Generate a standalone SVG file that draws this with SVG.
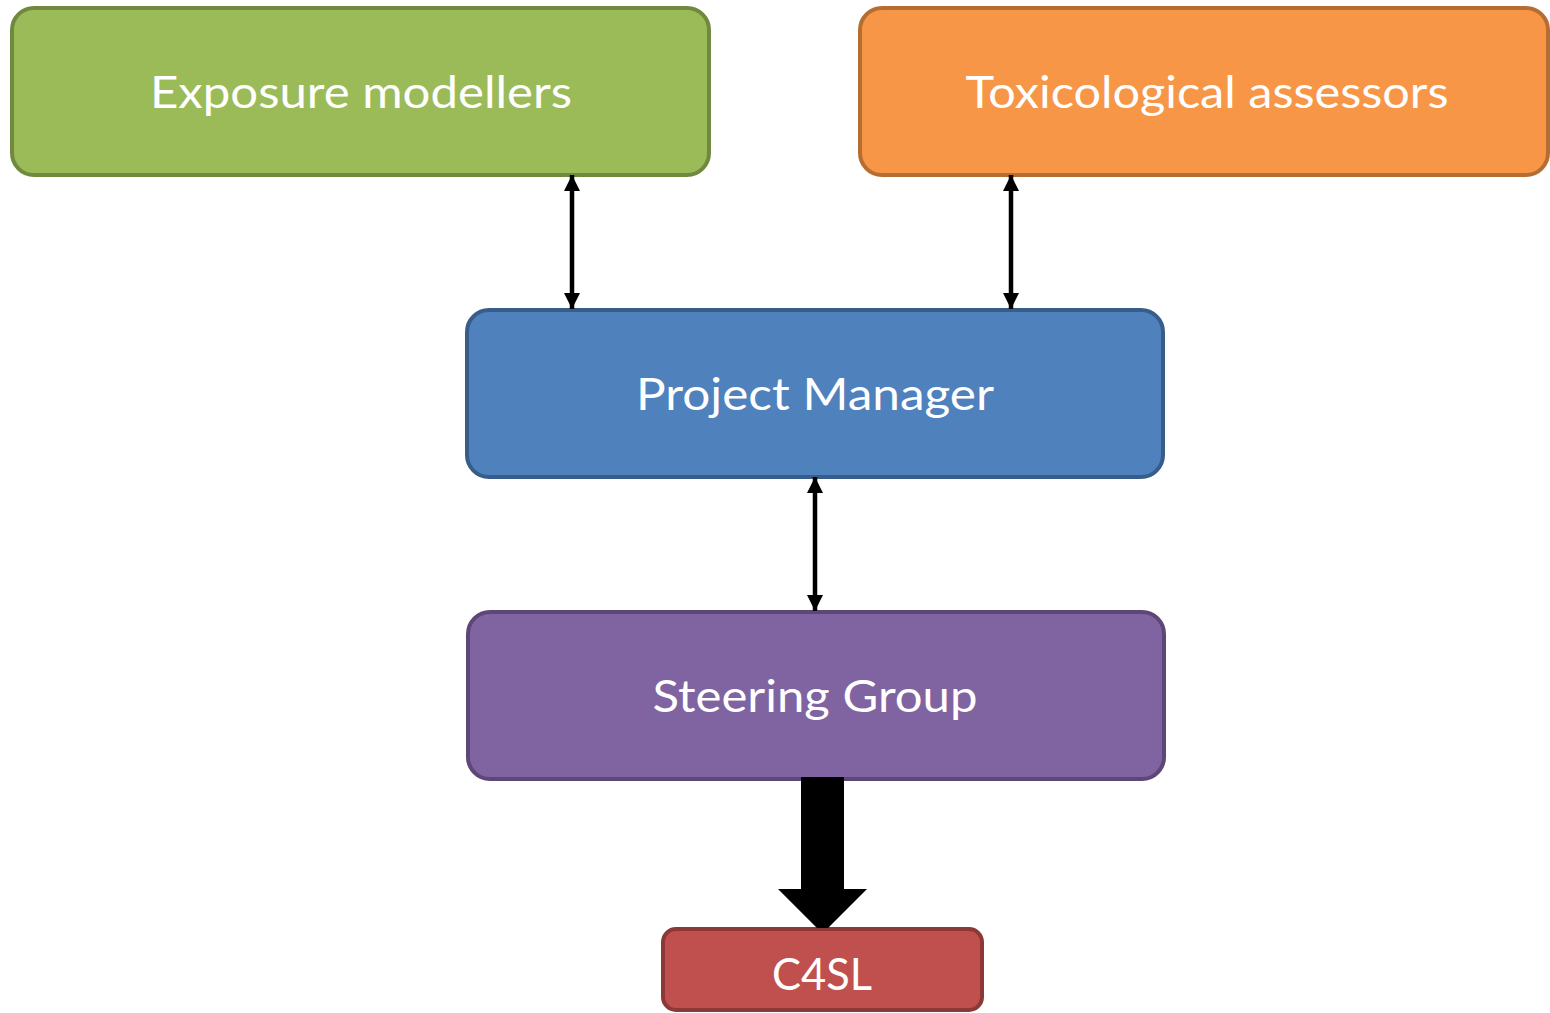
<svg xmlns="http://www.w3.org/2000/svg" width="1550" height="1013" viewBox="0 0 1550 1013">
<defs>
<style>
.lbl{font-family:Lato,"Open Sans","Liberation Sans",sans-serif;fill:#ffffff;text-anchor:middle;font-size:44px}
.box{stroke-width:4}
.conn{stroke:#000;stroke-width:4.5;fill:none}
</style>
<marker id="ah" viewBox="0 0 10 10" refX="10" refY="5" markerWidth="3.6" markerHeight="3.8" orient="auto-start-reverse" markerUnits="strokeWidth">
<path d="M0,0 L10,5 L0,10 z" fill="#000"/>
</marker>
</defs>
<rect width="1550" height="1013" fill="#fff"/>
<g id="exposure">
<rect class="box" x="12" y="8" width="697" height="167" rx="22" fill="#9BBB59" stroke="#71893F"/>
<text class="lbl" x="361" y="108" textLength="422" lengthAdjust="spacingAndGlyphs">Exposure modellers</text>
</g>
<g id="toxicological">
<rect class="box" x="860" y="8" width="688" height="167" rx="22" fill="#F79646" stroke="#B66D31"/>
<text class="lbl" x="1207" y="108" textLength="483" lengthAdjust="spacingAndGlyphs">Toxicological assessors</text>
</g>
<g id="project-manager">
<rect class="box" x="467" y="310" width="696" height="167" rx="22" fill="#4F81BD" stroke="#385D8A"/>
<text class="lbl" x="815" y="410" textLength="358" lengthAdjust="spacingAndGlyphs">Project Manager</text>
</g>
<g id="steering-group">
<rect class="box" x="468" y="612" width="696" height="167" rx="22" fill="#8064A2" stroke="#5C4776"/>
<text class="lbl" x="815" y="712" textLength="325" lengthAdjust="spacingAndGlyphs">Steering Group</text>
</g>
<g id="c4sl">
<rect class="box" x="663" y="929" width="319" height="81" rx="13" fill="#C0504D" stroke="#8C3836"/>
<text class="lbl" x="822" y="990" textLength="100" lengthAdjust="spacingAndGlyphs">C4SL</text>
</g>
<g id="connectors">
<line class="conn" x1="572" y1="175" x2="572" y2="309" marker-start="url(#ah)" marker-end="url(#ah)"/>
<line class="conn" x1="1011" y1="175" x2="1011" y2="309" marker-start="url(#ah)" marker-end="url(#ah)"/>
<line class="conn" x1="815" y1="477" x2="815" y2="611" marker-start="url(#ah)" marker-end="url(#ah)"/>
<path d="M801,777 L844,777 L844,889 L867,889 L828,928 L817,928 L778,889 L801,889 Z" fill="#000"/>
</g>
</svg>
